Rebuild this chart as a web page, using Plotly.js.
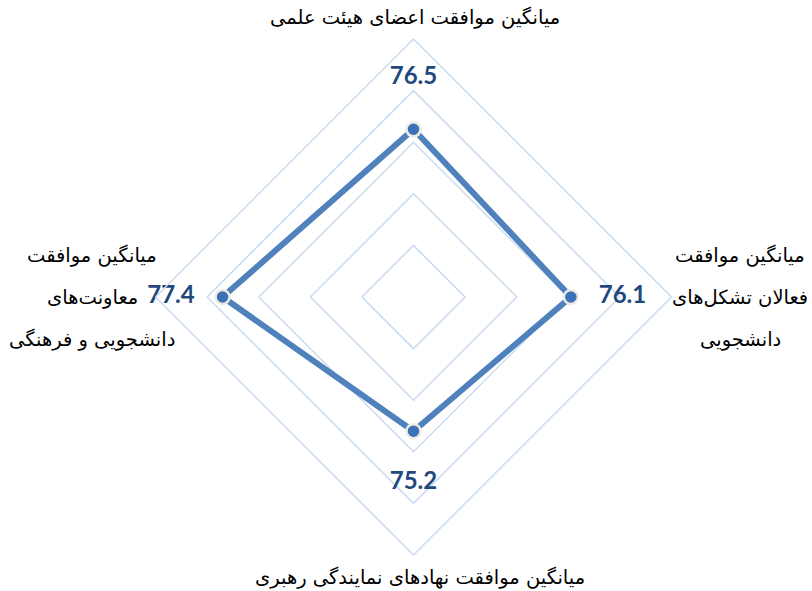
<!DOCTYPE html>
<html>
<head>
<meta charset="utf-8">
<script src="https://cdn.plot.ly/plotly-3.0.1.min.js"></script>
<style>html,body{margin:0;padding:0;background:#fff;}#chart{width:812px;height:591px;}</style>
</head>
<body>
<div id="chart"></div>
<script>
// Categories (clockwise from top)
var categories = [
  "میانگین موافقت اعضای هیئت علمی",
  "میانگین موافقت فعالان تشکل‌های دانشجویی",
  "میانگین موافقت نهادهای نمایندگی رهبری",
  "میانگین موافقت معاونت‌های دانشجویی و فرهنگی"
];
// Category label lines as displayed
var categoryLines = [
  ["میانگین موافقت اعضای هیئت علمی"],
  ["میانگین موافقت", "فعالان تشکل‌های", "دانشجویی"],
  ["میانگین موافقت نهادهای نمایندگی رهبری"],
  ["میانگین موافقت", "معاونت‌های", "دانشجویی و فرهنگی"]
];
var values = [76.5, 76.1, 75.2, 77.4];
var radialRange = [70, 80];
var radialStep = 2;

var lineColor = "#4f81bd";
var gridColor = "#c9dbf0";

var rClosed = values.concat([values[0]]);
var tClosed = categories.concat([categories[0]]);

var dataTrace = {
  type: "scatterpolar",
  r: rClosed,
  theta: tClosed,
  mode: "lines+markers",
  line: {color: lineColor, width: 6},
  marker: {size: 14, color: "#3b71b9", line: {color: "#eeece1", width: 2.5}},
  hoverinfo: "skip",
  showlegend: false
};

var labelOffset = radialStep; // label placed one grid step outward
var labelTrace = {
  type: "scatterpolar",
  r: values.map(function(v){ return v + labelOffset; }),
  theta: categories,
  mode: "text",
  text: values.map(function(v){ return v.toFixed(1); }),
  textposition: "middle center",
  textfont: {family: "Lato, 'Open Sans', sans-serif", size: 24, color: "#1f497d", weight: "bold"},
  hoverinfo: "skip",
  showlegend: false
};

// domain in paper units
var W = 812, H = 591;
var dom = {x: [155.5 / W, 671.5 / W], y: [36 / H, 552 / H]};

// Category label annotations (positioned around the polar domain)
var labelFont = {family: "'DejaVu Sans', sans-serif", size: 19.5, color: "#000"};
var anchors = [
  {x: 415 / W, y: 1 - 18 / H, dy: 0},
  {x: 740 / W, y: 1 - 255 / H, dy: 42 / H},
  {x: 420 / W, y: 1 - 577 / H, dy: 0},
  {x: 92 / W, y: 1 - 255 / H, dy: 42 / H}
];
var annotations = [];
categoryLines.forEach(function(lines, i){
  lines.forEach(function(txt, j){
    annotations.push({
      xref: "paper", yref: "paper",
      x: anchors[i].x, y: anchors[i].y - j * anchors[i].dy,
      xanchor: "center", yanchor: "middle",
      text: txt, showarrow: false, font: labelFont
    });
  });
});

var layout = {
  width: W, height: H,
  margin: {l: 0, r: 0, t: 0, b: 0},
  paper_bgcolor: "#ffffff",
  showlegend: false,
  polar: {
    domain: dom,
    bgcolor: "rgba(0,0,0,0)",
    gridshape: "linear",
    radialaxis: {
      range: radialRange, tick0: radialRange[0], dtick: radialStep,
      showticklabels: false, ticks: "", showline: false,
      gridcolor: gridColor, gridwidth: 1.5
    },
    angularaxis: {
      type: "category", categoryarray: categories,
      rotation: 90, direction: "clockwise",
      showticklabels: false, ticks: "", showgrid: false,
      showline: true, linecolor: gridColor, linewidth: 1.5
    }
  },
  annotations: annotations
};

Plotly.newPlot("chart", [dataTrace, labelTrace], layout, {displayModeBar: false, staticPlot: true});
</script>
</body>
</html>
